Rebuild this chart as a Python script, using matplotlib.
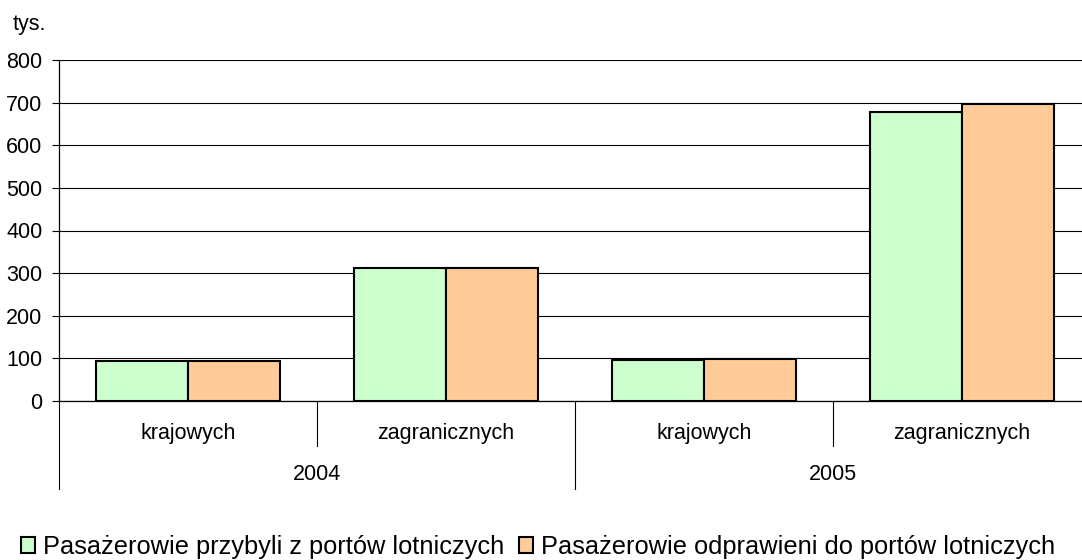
import matplotlib
matplotlib.use("Agg")
import matplotlib.pyplot as plt
from matplotlib.patches import Patch
from matplotlib.lines import Line2D
import numpy as np

categories = ["krajowych", "zagranicznych", "krajowych", "zagranicznych"]
years = ["2004", "2005"]
arrivals = [94, 312, 97, 679]      # Pasażerowie przybyli z portów lotniczych
departures = [95, 313, 98, 696]    # Pasażerowie odprawieni do portów lotniczych
series_names = ["Pasażerowie przybyli z portów lotniczych",
                "Pasażerowie odprawieni do portów lotniczych"]
yticks = [0, 100, 200, 300, 400, 500, 600, 700, 800]

plt.rcParams['font.family'] = ['Liberation Sans', 'DejaVu Sans']

W, H = 1082, 560
fig = plt.figure(figsize=(W / 100, H / 100), dpi=100)
ax = fig.add_axes([59 / W, (H - 401) / H, 1032 / W, 341 / H])

x = np.arange(len(categories))
bw = 0.358
green = "#CCFFCC"
orange = "#FFCC99"
ax.bar(x - bw / 2, arrivals, bw, color=green, edgecolor="black", linewidth=1.5, zorder=3)
ax.bar(x + bw / 2, departures, bw, color=orange, edgecolor="black", linewidth=1.5, zorder=3)

FS = 15.5
ax.set_xlim(-0.5, len(categories) - 0.5)
ax.set_ylim(0, 800)
ax.set_yticks(yticks)
ax.tick_params(axis='y', length=5, width=0.8, pad=7, labelsize=FS, direction='out')
ax.yaxis.grid(True, color="black", linewidth=0.8, zorder=0)
ax.set_axisbelow(True)
for s in ['top', 'right']:
    ax.spines[s].set_visible(False)
ax.spines['left'].set_linewidth(0.9)
ax.spines['bottom'].set_linewidth(0.9)

ax.set_xticks([])
trans = ax.get_xaxis_transform()
ah = 341.0
for i, c in enumerate(categories):
    ax.text(i, -32 / ah, c, transform=trans, ha='center', va='center', fontsize=FS)
for j, yr in enumerate(years):
    ax.text(2 * j + 0.5, -74 / ah, yr, transform=trans, ha='center', va='center', fontsize=FS)
# dividers
for xd in [0.5, 2.5]:
    ax.add_line(Line2D([xd, xd], [0, -45 / ah], transform=trans, color="black",
                       linewidth=0.8, clip_on=False))
for xd in [-0.5, 1.5, 3.5]:
    ax.add_line(Line2D([xd, xd], [0, -88 / ah], transform=trans, color="black",
                       linewidth=0.8, clip_on=False))

fig.text(13 / W, 1 - 30 / H, "tys.", fontsize=FS, va='baseline', ha='left')

handles = [Patch(facecolor=green, edgecolor="black", linewidth=1.5),
           Patch(facecolor=orange, edgecolor="black", linewidth=1.5)]
leg = fig.legend(handles, series_names, loc='center left', ncol=2,
                 bbox_to_anchor=(21 / W, 1 - 547 / H), frameon=False,
                 prop={'size': 18.3},
                 handlelength=0.55, handleheight=0.63, handletextpad=0.3,
                 columnspacing=0.6, borderaxespad=0, borderpad=0)

fig.savefig("out.png", dpi=100)
